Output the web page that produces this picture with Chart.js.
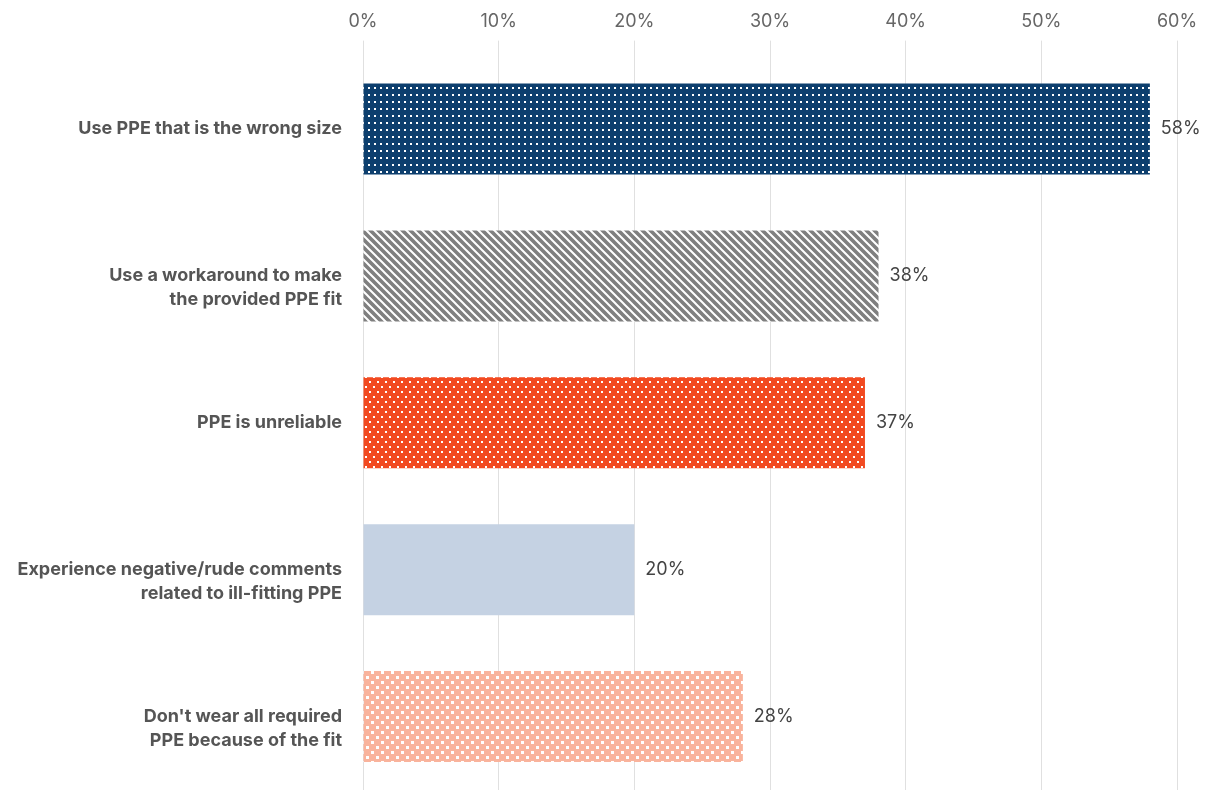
<!DOCTYPE html>
<html>
<head>
<meta charset="utf-8">
<script src="https://cdn.jsdelivr.net/npm/chart.js@4"></script>
<style>
    html, body { margin: 0; padding: 0; background: #fff; }
    #wrap { width: 1211px; height: 794px; position: relative; }
</style>
</head>
<body>
<div id="wrap"><canvas id="fitChart"></canvas></div>
<script>
// ------------------------------------------------------------
// PPE fit survey - horizontal bars with pattern fills
// ------------------------------------------------------------
const categories = [
    ['Use PPE that is the wrong size'],
    ['Use a workaround to make', 'the provided PPE fit'],
    ['PPE is unreliable'],
    ['Experience negative/rude comments', 'related to ill-fitting PPE'],
    ["Don't wear all required", 'PPE because of the fit']
];
const shares = [58, 38, 37, 20, 28];
const xTicks = [0, 10, 20, 30, 40, 50, 60];

// Build a small repeating tile and turn it into a canvas pattern
function makePattern(w, h, bg, drawFn) {
    const tile = document.createElement('canvas');
    tile.width = w;
    tile.height = h;
    const c = tile.getContext('2d');
    c.fillStyle = bg;
    c.fillRect(0, 0, w, h);
    c.fillStyle = '#ffffff';
    c.strokeStyle = '#ffffff';
    drawFn(c);
    return c.createPattern(tile, 'repeat');
}

const navyDots = makePattern(6, 7, '#0d3f6e', c => c.fillRect(2, 3, 2, 2));
const greyStripes = makePattern(8, 8, '#7f7f7f', c => {
    c.lineWidth = 2;
    c.beginPath();
    c.moveTo(-2, -2); c.lineTo(10, 10);
    c.moveTo(-10, -2); c.lineTo(2, 10);
    c.moveTo(6, -2); c.lineTo(18, 10);
    c.stroke();
});
const orangeDots = makePattern(8, 10, '#f24a21', c => {
    c.fillRect(1, 1, 2, 2);
    c.fillRect(5, 6, 2, 2);
});
const salmonDots = makePattern(10, 10, '#f9b39c', c => {
    c.fillRect(1, 1, 3, 3);
    c.fillRect(6, 6, 3, 3);
});
const barFills = [navyDots, greyStripes, orangeDots, '#c5d2e3', salmonDots];

// value labels at the end of each bar
const valueLabels = {
    id: 'valueLabels',
    afterDatasetsDraw(chart) {
        const ctx = chart.ctx;
        const meta = chart.getDatasetMeta(0);
        ctx.save();
        ctx.font = '18px Inter';
        ctx.fillStyle = '#444444';
        ctx.textAlign = 'left';
        ctx.textBaseline = 'middle';
        meta.data.forEach((bar, i) => {
            ctx.fillText(shares[i] + '%', bar.x + 11, bar.y);
        });
        ctx.restore();
    }
};

// multi-line labels: leading blank line keeps the first line on the bar centre
const tickLabels = categories.map(lines => lines.length > 1 ? [''].concat(lines) : lines);

new Chart(document.getElementById('fitChart'), {
    type: 'bar',
    data: {
        labels: tickLabels,
        datasets: [{
            data: shares,
            backgroundColor: barFills,
            borderWidth: 0,
            categoryPercentage: 1,
            barPercentage: 0.62
        }]
    },
    options: {
        indexAxis: 'y',
        responsive: true,
        maintainAspectRatio: false,
        animation: false,
        layout: { padding: { top: 3, right: 34, bottom: 4, left: 0 } },
        plugins: {
            legend: { display: false },
            tooltip: { enabled: false }
        },
        scales: {
            x: {
                position: 'top',
                min: 0,
                max: 60,
                afterBuildTicks: (scale) => {
                    scale.ticks = xTicks.map(v => ({ value: v }));
                },
                grid: {
                    color: '#e0e0e0',
                    lineWidth: 1,
                    tickLength: 15
                },
                border: { display: false },
                ticks: {
                    color: '#666666',
                    font: { family: 'Inter', size: 18 },
                    padding: 8,
                    callback: (v) => v + '%'
                }
            },
            y: {
                afterFit: (scale) => {
                    scale.width = 363;
                    // tall multi-line labels shouldn't shrink the plot
                    scale.paddingTop = 0;
                    scale.paddingBottom = 0;
                },
                grid: { display: false, drawTicks: false },
                border: { display: false },
                ticks: {
                    color: '#555555',
                    font: { family: 'Inter', size: 18, weight: 'bold', lineHeight: 1.33 },
                    padding: 21
                }
            }
        }
    },
    plugins: [valueLabels]
});
</script>
</body>
</html>
